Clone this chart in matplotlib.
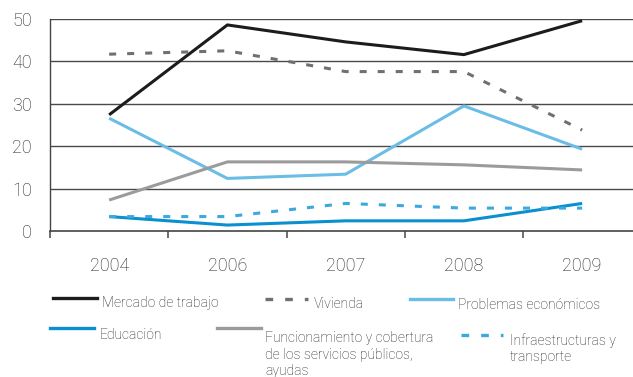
import matplotlib
matplotlib.use("Agg")
import matplotlib.pyplot as plt
from matplotlib.lines import Line2D

plt.rcParams['font.family'] = ['Roboto', 'DejaVu Sans']
plt.rcParams['font.weight'] = 'light'

years = ['2004', '2006', '2007', '2008', '2009']
mercado = [27.4, 48.6, 44.6, 41.6, 49.6]
vivienda = [41.7, 42.5, 37.6, 37.6, 23.8]
problemas = [26.6, 12.4, 13.4, 29.5, 19.3]
educacion = [3.4, 1.4, 2.4, 2.4, 6.5]
funcionamiento = [7.3, 16.3, 16.3, 15.6, 14.4]
infra = [3.4, 3.4, 6.5, 5.4, 5.4]
yticks = [0, 10, 20, 30, 40, 50]

dash = (0, (2.3, 3.6))
series = [
    (mercado, 'Mercado de trabajo', '#1c1c1c', '-'),
    (vivienda, 'Vivienda', '#707070', dash),
    (problemas, 'Problemas económicos', '#6cbde6', '-'),
    (educacion, 'Educación', '#0a8fcf', '-'),
    (funcionamiento, 'Funcionamiento y cobertura\nde los servicios públicos,\nayudas', '#9b9b9b', '-'),
    (infra, 'Infraestructuras y\ntransporte', '#3ba9dd', dash),
]

text_col = '#222222'
W, H = 633, 377
fig = plt.figure(figsize=(W / 100, H / 100), dpi=100)
ax = fig.add_axes([50 / W, (H - 231) / H, (W - 50) / W, 212 / H])

x = list(range(len(years)))
for vals, lab, col, ls in series:
    ax.plot(x, vals, color=col, lw=2.2, linestyle=ls, solid_capstyle='butt',
            dash_capstyle='butt', zorder=3)

ax.set_ylim(0, 50)
ax.set_xlim(-0.5, 4.43)
ax.set_yticks(yticks)
for v in yticks[1:]:
    ax.axhline(v, color='#4a4a4a', lw=1.0, zorder=1)

ax.set_xticks(x)
ax.set_xticklabels(years)
ax.set_xticks([-0.5, 0.5, 1.5, 2.5, 3.5], minor=True)
ax.tick_params(axis='x', which='major', length=0, pad=18.5, labelsize=13, labelcolor=text_col)
ax.tick_params(axis='x', which='minor', length=5, width=1.2, color='#555555', direction='out')
ax.tick_params(axis='y', length=0, pad=13, labelsize=13, labelcolor=text_col)

for s in ['top', 'right']:
    ax.spines[s].set_visible(False)
ax.spines['left'].set_color('#444444')
ax.spines['bottom'].set_color('#444444')
ax.spines['left'].set_linewidth(1.0)
ax.spines['bottom'].set_linewidth(1.2)

# legend drawn by hand (rows are not aligned in columns)
# (line x0, line x1, line y, text x, first baseline y) in pixels
pos = [
    (53, 97, 298, 102, 307),
    (265, 308, 299, 314, 308),
    (410, 453, 299, 458, 309),
    (50, 94, 328, 100, 339),
    (217, 261, 328, 265, 342),
    (461, 503, 335, 510, 345),
]
line_step = 16.5
for (vals, lab, col, ls), (x0, x1, ly, tx, ty) in zip(series, pos):
    fig.add_artist(Line2D([x0 / W, x1 / W], [1 - ly / H, 1 - ly / H], color=col,
                          lw=2.4, linestyle=ls, transform=fig.transFigure))
    for i, part in enumerate(lab.split('\n')):
        fig.text(tx / W, 1 - (ty + i * line_step) / H, part, fontsize=10,
                 color=text_col, va='baseline', ha='left')

fig.savefig('out.png', dpi=100)
